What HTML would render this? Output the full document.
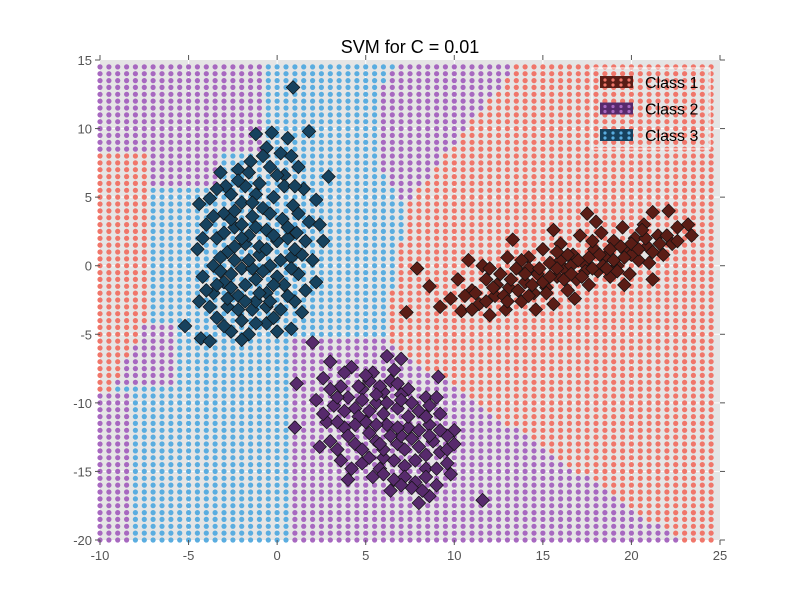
<!DOCTYPE html>
<html><head><meta charset="utf-8"><style>
html,body{margin:0;padding:0;background:#fff;}
svg{display:block;font-family:"Liberation Sans","DejaVu Sans",sans-serif;}
</style></head><body>
<svg id="chart" width="800" height="600" viewBox="0 0 800 600">
<text x="410" y="53" text-anchor="middle" font-size="18" fill="#000">SVM for C = 0.01</text>
</svg>
<script>
const xTicks=[-10,-5,0,5,10,15,20,25];
const yTicks=[-20,-15,-10,-5,0,5,10,15];
const classNames=["Class 1","Class 2","Class 3"];
const class1Pts=[[7.3,-3.4],[7.9,-0.2],[8.6,-1.5],[9.2,-3.0],[9.8,-2.4],[10.4,-3.3],[10.8,0.4],[11.0,-1.8],[11.4,-2.8],[11.8,-1.0],[12.0,-3.6],[12.3,-2.2],[12.6,-0.6],[12.9,-3.2],[13.1,-1.6],[13.3,1.9],[13.5,-0.2],[13.8,-2.6],[14.0,-1.2],[14.2,0.6],[14.5,-2.0],[14.7,-0.6],[15.0,1.2],[15.2,-1.6],[15.4,0.2],[15.6,-2.8],[15.8,-0.8],[16.0,1.6],[16.2,-0.2],[16.4,-1.8],[16.7,0.8],[16.9,-1.0],[17.1,2.2],[17.3,0.2],[17.5,3.8],[17.6,-1.4],[17.9,1.2],[18.1,-0.4],[18.3,2.4],[18.5,0.6],[18.8,-0.8],[19.0,1.8],[19.2,0.0],[19.5,2.8],[19.7,1.0],[19.9,-0.6],[20.2,2.0],[20.4,0.4],[20.7,3.0],[20.9,1.4],[21.2,-1.0],[21.2,3.9],[21.5,2.2],[21.8,0.8],[22.1,4.0],[22.3,1.6],[22.6,2.8],[23.2,3.0],[23.4,2.2],[13.0,0.6],[14.6,-3.2],[16.8,-2.4],[11.6,0.0],[18.0,3.2],[19.6,-1.4],[15.6,2.6],[12.4,-1.4],[17.4,-0.4],[14.2,-0.2],[16.0,0.4],[20.0,0.8],[10.2,-1.0],
[10.6,-2.2],[11.2,-2.0],[11.8,-2.6],[12.2,-1.6],[12.8,-2.2],[13.2,-1.0],[13.6,-1.8],[14.0,-0.6],[14.4,-1.4],[14.8,-0.2],[15.0,-1.2],[15.4,-0.8],[15.8,-0.2],[16.2,-1.0],[16.6,0.0],[16.6,-0.6],[17.0,0.4],[17.2,-0.8],[17.6,0.6],[17.8,-0.2],[18.2,0.8],[18.4,0.0],[18.8,1.2],[19.0,0.4],[19.4,1.4],[19.6,0.6],[20.0,1.6],[20.4,1.2],[20.8,2.0],[21.2,1.0],[21.6,1.6],[22.0,2.2],[22.6,1.8],[13.0,-2.6],[14.2,-2.2],[15.2,-2.0],[16.4,0.8],[17.8,1.8],[19.2,-0.4],[20.6,2.6],[12.0,-0.2],[13.8,0.4],[15.8,1.0],[18.6,-0.2],[21.0,0.2],[11.0,-3.2]];
const class2Pts=[[2.0,-5.6],[1.1,-8.6],[1.0,-11.8],[7.0,-6.8],[9.1,-8.1],[11.6,-17.1],[8.0,-17.3],[10.0,-12.0],[3.0,-7.0],[4.2,-7.4],[5.4,-7.8],[6.4,-8.4],[2.6,-8.2],[3.6,-8.8],[4.8,-9.0],[6.0,-9.2],[7.4,-9.0],[8.4,-9.6],[2.2,-9.8],[3.2,-10.2],[4.4,-10.4],[5.6,-10.0],[6.8,-10.4],[8.0,-10.6],[9.2,-10.8],[2.8,-11.4],[3.8,-11.8],[5.0,-11.4],[6.2,-11.6],[7.4,-11.8],[8.6,-11.6],[9.6,-12.4],[3.0,-12.8],[4.4,-13.0],[5.6,-12.8],[6.8,-13.0],[8.0,-13.2],[9.2,-13.6],[3.6,-14.2],[4.8,-14.4],[6.0,-14.0],[7.2,-14.6],[8.4,-14.8],[9.6,-14.4],[5.4,-15.4],[6.6,-15.6],[7.8,-15.8],[9.0,-16.0],[8.6,-16.8],[7.6,-16.2],[4.0,-9.6],[5.2,-8.4],[7.0,-12.4],[6.0,-13.4],[4.6,-11.0],[8.8,-12.8],[3.4,-13.4],[5.8,-14.8],[7.6,-10.0],[6.4,-16.4],[9.8,-15.2],[2.4,-13.2],[6.2,-6.6],[4.0,-15.6],
[3.8,-7.8],[5.0,-8.0],[6.6,-7.6],[4.6,-8.8],[5.8,-8.8],[7.0,-9.4],[3.4,-9.6],[4.8,-9.8],[6.2,-10.0],[7.0,-9.8],[8.6,-10.2],[3.8,-10.6],[5.2,-10.6],[6.0,-10.8],[7.4,-11.0],[8.4,-11.0],[3.4,-11.4],[4.4,-11.6],[5.6,-11.6],[6.8,-11.8],[8.0,-12.0],[9.2,-12.0],[4.0,-12.4],[5.2,-12.2],[6.4,-12.4],[7.6,-12.6],[8.6,-12.4],[4.8,-13.4],[5.8,-13.0],[7.2,-13.4],[8.4,-13.8],[9.6,-13.4],[5.2,-14.0],[6.6,-14.2],[7.8,-14.2],[9.0,-14.8],[6.0,-15.2],[7.2,-15.4],[8.4,-15.4],[7.0,-16.0],[8.2,-16.4],[2.6,-10.8],[3.0,-9.0],[9.0,-9.6],[10.0,-13.0],[4.2,-14.8],[6.8,-8.6],[5.6,-9.4]];
const class3Pts=[[-1.2,9.6],[-0.3,9.7],[0.6,9.3],[1.8,9.8],[0.9,13.0],[-0.6,8.6],[0.2,8.2],[-1.5,7.6],[-2.2,7.0],[1.2,7.2],[-3.2,6.8],[0.4,6.6],[2.9,6.5],[-2.6,5.2],[-1.0,6.0],[1.5,5.6],[-3.8,4.9],[-4.4,4.5],[-2.0,4.6],[-0.2,5.0],[0.9,4.4],[2.2,4.8],[-3.0,3.8],[-1.4,3.6],[0.3,3.4],[1.8,3.2],[-4.0,3.0],[-2.4,2.8],[-0.6,2.6],[1.1,2.4],[2.6,1.8],[-3.4,2.0],[-1.8,1.6],[0.0,1.8],[-4.5,1.2],[-2.8,1.0],[-1.0,0.8],[0.8,0.6],[2.0,0.4],[-3.6,0.0],[-2.0,-0.2],[-0.4,0.0],[1.2,-0.6],[-4.2,-0.8],[-3.0,-1.2],[-1.2,-1.0],[0.4,-1.4],[2.2,-1.2],[-3.6,-2.0],[-2.2,-2.2],[-0.6,-2.0],[1.0,-2.6],[-4.4,-2.6],[-2.8,-3.0],[-1.4,-3.2],[0.2,-3.2],[-3.4,-3.8],[-2.0,-4.0],[-0.6,-4.2],[0.8,-4.6],[-4.3,-5.3],[-3.8,-5.5],[-2.6,-4.8],[-1.6,-5.0],[-5.2,-4.4],[-0.2,-3.8],[-2.4,0.4],[-1.6,2.2],[-2.6,3.4],[-0.8,4.2],[-1.4,-0.2],[0.6,2.0],[-3.2,-0.4],[-1.0,1.4],[-2.0,3.0],[0.0,-0.8],[-1.8,5.8],[-0.4,7.2],[1.4,0.8],[-2.6,-1.6],[-1.2,-2.6],
[-2.9,5.8],[-1.2,5.2],[0.4,5.8],[-2.4,4.0],[-0.4,3.8],[1.2,3.8],[-3.6,3.6],[-2.0,2.0],[-0.2,2.2],[1.6,1.8],[-3.0,2.4],[-1.2,2.8],[0.6,2.8],[-2.4,1.4],[-0.6,1.2],[1.0,1.2],[-3.2,0.6],[-1.6,0.4],[0.2,0.4],[-2.6,-0.6],[-0.8,-0.4],[0.8,-0.2],[-3.4,-1.4],[-1.8,-1.4],[-0.2,-1.4],[1.6,-1.8],[-2.8,-2.4],[-1.0,-2.0],[0.6,-2.2],[-3.8,-3.0],[-2.2,-3.2],[-0.6,-3.0],[-3.0,-4.4],[-1.2,-4.2],[0.0,-4.8],[-2.0,-5.4],[-1.6,6.8],[0.8,8.0],[-0.8,8.0],[1.0,5.8],[-1.4,4.6],[-3.4,5.6],[2.4,3.0],[-4.0,-1.8],[-4.2,2.0],[1.4,-3.4],[-2.2,6.2],[0.0,6.6],[-1.8,-2.6],[-0.4,-2.6]];

const NS="http://www.w3.org/2000/svg";
const svg=document.getElementById('chart');
const L=100,R=720,T=60,B=540,X0=-10,X1=25,Y0=-20,Y1=15;
function sx(v){return L+(v-X0)/(X1-X0)*(R-L);}
function sy(v){return B-(v-Y0)/(Y1-Y0)*(B-T);}
function mk(tag,attrs,parent){const e=document.createElementNS(NS,tag);for(const k in attrs)e.setAttribute(k,attrs[k]);(parent||svg).appendChild(e);return e;}

const bg=mk('rect',{x:L,y:T,width:R-L,height:B-T,fill:'#e5e5e5'});



const grid=mk('g',{stroke:'#fff','stroke-width':1});


xTicks.slice(1,-1).forEach(t=>mk('line',{x1:sx(t),x2:sx(t),y1:T,y2:B},grid));
yTicks.slice(1,-1).forEach(t=>mk('line',{y1:sy(t),y2:sy(t),x1:L,x2:R},grid));

function classify(x,y){
  if(x>0.8&&y<-5.2&&x<8.4-(y+7.5)/0.874)return 2;
  if(y<-9&&x<-8.3)return 2;
  if(y<=8.3&&y>=-9.5){let sxl=y>-4?-7.3:-7.3-(-4-y)*0.4;if(x<sxl)return 1;}
  if(y<-4.2&&y>-9&&x<-5.9)return 2;
  if(x<-0.7&&y>8.3)return 2;
  if(x<-3&&y>5.5)return 2;
  let redL;
  if(y<-5.2)redL=0.8;else if(y>4.8)redL=7.5+(y-4.8)*0.61;else redL=6+(y+5)*0.15;
  if(x>redL)return 1;
  if(y>4.8){const blueR=5.5+(y-10)*(y-10)*0.05;if(x>blueR)return 2;}
  return 3;
}
const regionColors={1:'#f0766a',2:'#a768c0',3:'#5aade0'};
const regions=mk('g',{});


for(let i=0;i<70;i++){for(let j=0;j<70;j++){
  const x=-10+i*0.5,y=-20+j*0.5;
  mk('circle',{cx:sx(x).toFixed(1),cy:sy(y).toFixed(1),r:2.6,fill:regionColors[classify(x,y)]},regions);
}}

function drawClass(pts,color,name){
  const g=mk('g',{fill:color,stroke:'#111','stroke-width':0.7});
  
  
  pts.forEach(p=>{const cx=sx(p[0]),cy=sy(p[1]),d=6.8;
    const m=mk('polygon',{points:`${cx},${cy-d} ${cx+d},${cy} ${cx},${cy+d} ${cx-d},${cy}`},g);
    
    
  });
}
drawClass(class1Pts,'#5a1d16','class-1-points');
drawClass(class2Pts,'#572a6c','class-2-points');
drawClass(class3Pts,'#17425e','class-3-points');

const axes=mk('g',{stroke:'#555','stroke-width':1});


xTicks.forEach(t=>{mk('line',{x1:sx(t),x2:sx(t),y1:B,y2:B+5},axes);mk('line',{x1:sx(t),x2:sx(t),y1:T,y2:T-5},axes);});
yTicks.forEach(t=>{mk('line',{x1:L-5,x2:L,y1:sy(t),y2:sy(t)},axes);mk('line',{x1:R,x2:R+5,y1:sy(t),y2:sy(t)},axes);});
const xl=mk('g',{'font-size':13,fill:'#555','text-anchor':'middle'});


xTicks.forEach(t=>{const e=mk('text',{x:sx(t),y:B+20},xl);e.textContent=t;});
const yl=mk('g',{'font-size':13,fill:'#555','text-anchor':'end'});


yTicks.forEach(t=>{const e=mk('text',{x:L-8,y:sy(t)+5},yl);e.textContent=t;});

const legend=mk('g',{});


mk('rect',{x:592,y:68,width:118,height:81,fill:'none',stroke:'#fff','stroke-width':1},legend);
const legColors=['#5a1d16','#572a6c','#17425e'],dotColors=['#f0766a','#a768c0','#5aade0'];
classNames.forEach((n,i)=>{
  const y=82+i*26.5;
  const entry=mk('g',{},legend);
  
  
  mk('rect',{x:600,y:y-6,width:33,height:12,fill:legColors[i]},entry);
  for(let k=0;k<4;k++){mk('circle',{cx:605+k*8,cy:y-2,r:1.6,fill:dotColors[i]},entry);mk('circle',{cx:605+k*8,cy:y+3,r:1.6,fill:dotColors[i]},entry);}
  const t=mk('text',{x:645,y:y+6,'font-size':16,fill:'#000'},entry);t.textContent=n;
});
</script>
</body></html>
